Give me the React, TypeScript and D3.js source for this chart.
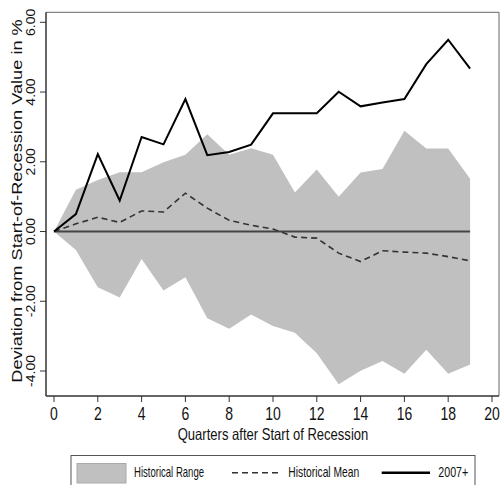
import React from "react";
import * as d3 from "d3";

const quarters = [0, 1, 2, 3, 4, 5, 6, 7, 8, 9, 10, 11, 12, 13, 14, 15, 16, 17, 18, 19];
const series2007 = [0, 0.5, 2.22, 0.89, 2.71, 2.5, 3.8, 2.19, 2.28, 2.49, 3.39, 3.39, 3.39, 4.01, 3.59, 3.7, 3.8, 4.8, 5.5, 4.67];
const rangeUpper = [0, 1.2, 1.48, 1.7, 1.7, 1.99, 2.2, 2.79, 2.2, 2.39, 2.2, 1.12, 1.78, 1.0, 1.69, 1.79, 2.89, 2.38, 2.38, 1.51];
const rangeLower = [0, -0.53, -1.6, -1.89, -0.79, -1.69, -1.31, -2.49, -2.79, -2.38, -2.71, -2.9, -3.49, -4.38, -3.99, -3.71, -4.08, -3.39, -4.08, -3.81];
const histMean = [0, 0.22, 0.41, 0.26, 0.59, 0.56, 1.1, 0.67, 0.32, 0.18, 0.07, -0.16, -0.19, -0.62, -0.86, -0.55, -0.59, -0.62, -0.72, -0.84];
const xTicks = [0, 2, 4, 6, 8, 10, 12, 14, 16, 18, 20];
const yTicks = [-4, -2, 0, 2, 4, 6];
const yTickLabels = ["-4.00", "-2.00", "0.00", "2.00", "4.00", "6.00"];
const legendLabels = ["Historical Range", "Historical Mean", "2007+"];

const FONT = "'Liberation Sans', Arial, sans-serif";

export default function App() {
  const x = d3.scaleLinear().domain([0, 20]).range([54, 492]);
  const y = d3.scaleLinear().domain([-4, 6]).range([371, 22.3]);
  const frameLeft = 46;
  const frameRight = 499;
  const frameTop = 12.3;
  const frameBottom = 396;

  const area = d3
    .area<number>()
    .x((d) => x(d))
    .y0((d, i) => y(rangeLower[i]))
    .y1((d, i) => y(rangeUpper[i]));
  const line = (vals: number[]) =>
    d3
      .line<number>()
      .x((d) => x(d))
      .y((d, i) => y(vals[i]))(quarters) as string;

  return (
    <svg
      width={500}
      height={485}
      style={{ position: "absolute", left: 0, top: 0, background: "#fff" }}
      fontFamily={FONT}
    >
      <rect x={0} y={0} width={500} height={485} fill="#fff" />
      <line x1={frameLeft} x2={frameRight} y1={frameTop} y2={frameTop} stroke="#666" strokeWidth={1} />
      <line x1={frameRight} x2={frameRight} y1={frameTop} y2={frameBottom} stroke="#666" strokeWidth={1} />
      <path d={area(quarters) as string} fill="#c0c0c0" />
      <line x1={x(0)} x2={x(19)} y1={y(0)} y2={y(0)} stroke="#444" strokeWidth={2} />
      <path d={line(histMean)} fill="none" stroke="#333" strokeWidth={1.6} strokeDasharray="6,4" />
      <path d={line(series2007)} fill="none" stroke="#000" strokeWidth={2} strokeLinejoin="miter" />
      <line x1={frameLeft} x2={frameLeft} y1={frameTop} y2={frameBottom} stroke="#333" strokeWidth={1.5} />
      <line x1={frameLeft} x2={frameRight} y1={frameBottom} y2={frameBottom} stroke="#333" strokeWidth={1.5} />
      {yTicks.map((t, i) => (
        <g key={"y" + t}>
          <line x1={40} x2={frameLeft} y1={y(t)} y2={y(t)} stroke="#333" strokeWidth={1} />
          <text
            transform={`translate(35,${y(t)}) rotate(-90) scale(1,0.9)`}
            textAnchor="middle"
            fontSize={14}
            fill="#111"
          >
            {yTickLabels[i]}
          </text>
        </g>
      ))}
      {xTicks.map((t) => (
        <g key={"x" + t}>
          <line x1={x(t)} x2={x(t)} y1={frameBottom} y2={402} stroke="#333" strokeWidth={1} />
          <text
            transform={`translate(${x(t)},420) scale(0.8,1)`}
            textAnchor="middle"
            fontSize={17.5}
            fill="#111"
          >
            {t}
          </text>
        </g>
      ))}
      <text
        x={273}
        y={440}
        textAnchor="middle"
        fontSize={16.5}
        textLength={190.6}
        lengthAdjust="spacingAndGlyphs"
        fill="#111"
      >
        Quarters after Start of Recession
      </text>
      <text
        transform={`translate(22,201) rotate(-90) scale(1,0.85)`}
        textAnchor="middle"
        fontSize={18.2}
        fill="#111"
      >
        Deviation from Start-of-Recession Value in %
      </text>
      <rect x={71} y={455.5} width={404} height={40} fill="#fff" stroke="#555" strokeWidth={1} />
      <rect x={77} y={463.5} width={49} height={19.5} fill="#c0c0c0" stroke="#aaa" strokeWidth={1} />
      <text x={134} y={477} fontSize={14.5} textLength={70} lengthAdjust="spacingAndGlyphs" fill="#111">
        {legendLabels[0]}
      </text>
      <line x1={232} x2={282} y1={472.7} y2={472.7} stroke="#333" strokeWidth={1.4} strokeDasharray="6,4" />
      <text x={288.3} y={477} fontSize={14.5} textLength={71} lengthAdjust="spacingAndGlyphs" fill="#111">
        {legendLabels[1]}
      </text>
      <line x1={381.7} x2={430} y1={472.7} y2={472.7} stroke="#000" strokeWidth={2.5} />
      <text x={438.3} y={477} fontSize={14.5} textLength={30} lengthAdjust="spacingAndGlyphs" fill="#111">
        {legendLabels[2]}
      </text>
    </svg>
  );
}
